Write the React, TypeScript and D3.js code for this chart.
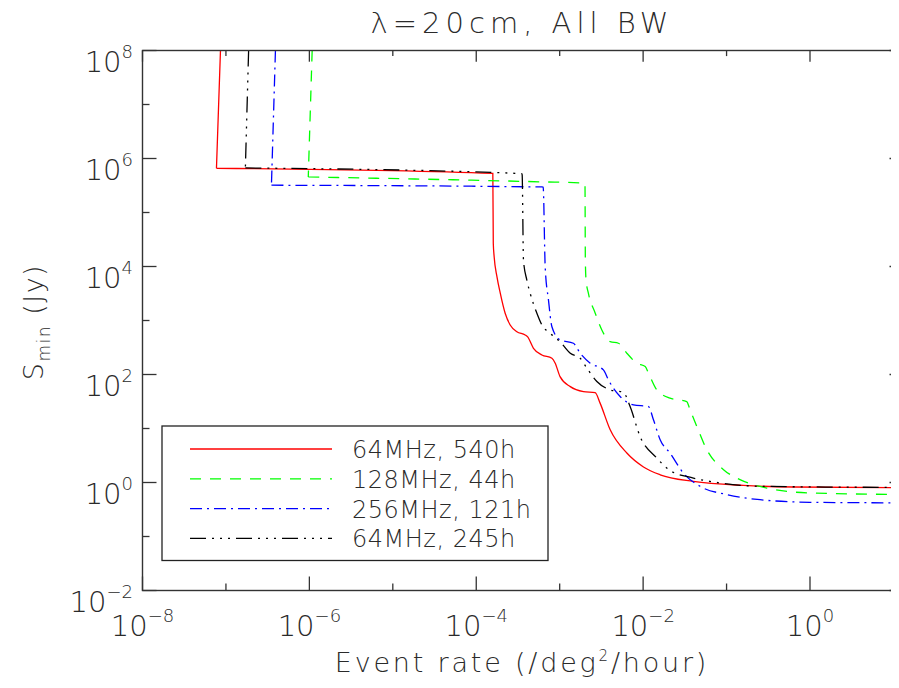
import React from "react";
import * as d3 from "d3";

// ---- data ----
const seriesNames = ["64MHz, 540h", "128MHz, 44h", "256MHz, 121h", "64MHz, 245h"];
const seriesColors = ["#ff0000", "#00ff00", "#0000ff", "#000000"];
const seriesDash = ["none", "11,9", "12,5,2,5", "16,6,2,6,2,6,2,6"];

const redRate = [8.6e-8, 7.7e-8, 1.58e-4, 1.6e-4, 1.64e-4, 1.77e-4, 1.94e-4, 2.22e-4, 2.55e-4, 3.07e-4, 3.86e-4, 4.11e-4, 4.85e-4, 6.12e-4, 8.07e-4, 8.84e-4, 1.01e-3, 1.34e-3, 1.93e-3, 2.66e-3, 3.05e-3, 4.03e-3, 6.38e-3, 1.01e-2, 1.6e-2, 4.0e-2, 0.159, 0.63, 13.5];
const redS = [1e8, 6.6e5, 5.3e5, 2.7e4, 1.5e4, 6.5e3, 3.2e3, 1.36e3, 826, 621, 540, 502, 306, 230, 200, 162, 91.5, 59.7, 48.3, 46.3, 29.5, 9.46, 3.51, 1.94, 1.39, 1.05, 0.883, 0.826, 0.8];

const greenRate = [1.08e-6, 9.7e-7, 5.83e-4, 1.93e-3, 2.01e-3, 2.03e-3, 2.07e-3, 2.21e-3, 2.66e-3, 3.2e-3, 4.03e-3, 5.06e-3, 6.38e-3, 8.4e-3, 1.06e-2, 1.16e-2, 1.46e-2, 2.1e-2, 3.33e-2, 3.65e-2, 4.4e-2, 5.8e-2, 9.2e-2, 0.145, 0.303, 1.0, 13.5];
const greenS = [1e8, 4.55e5, 3.7e5, 3.52e5, 3.5e5, 1.31e4, 5.6e3, 3.18e3, 1.38e3, 667, 405, 379, 248, 162, 140, 106, 51.9, 36.5, 31.5, 22.2, 10.9, 4.04, 1.73, 1.13, 0.79, 0.64, 0.6];

const blueRate = [3.92e-7, 3.51e-7, 6.12e-4, 6.34e-4, 6.7e-4, 7.34e-4, 8.07e-4, 1.01e-3, 1.46e-3, 1.76e-3, 2.32e-3, 3.34e-3, 3.84e-3, 5.3e-3, 7.66e-3, 1.16e-2, 1.33e-2, 1.6e-2, 2.1e-2, 3.03e-2, 4.82e-2, 0.1, 0.252, 1.0, 13.5];
const blueS = [1e8, 3.2e5, 2.97e5, 2.95e5, 9.9e3, 2.39e3, 767, 437, 379, 248, 162, 122, 79.4, 39.1, 27.4, 25.5, 14.5, 6.18, 3.51, 1.5, 0.85, 0.6, 0.48, 0.43, 0.42];

const blackRate = [1.87e-7, 1.71e-7, 3.52e-4, 3.55e-4, 3.68e-4, 4.04e-4, 4.43e-4, 5.33e-4, 6.12e-4, 7.7e-4, 1.01e-3, 1.34e-3, 1.76e-3, 2.12e-3, 2.79e-3, 4.03e-3, 5.8e-3, 6.98e-3, 9.2e-3, 1.46e-2, 2.1e-2, 4.0e-2, 8.4e-2, 0.252, 13.5];
const blackS = [1e8, 6.68e5, 5.26e5, 5.0e5, 1.31e4, 5.6e3, 3.18e3, 1.36e3, 826, 580, 405, 248, 200, 131, 74, 51.9, 46.7, 25.5, 7.1, 2.84, 1.67, 1.21, 0.98, 0.85, 0.81];

const seriesRates = [redRate, greenRate, blueRate, blackRate];
const seriesValues = [redS, greenS, blueS, blackS];

const xMajorExp = [-8, -6, -4, -2, 0];
const xMinorExp = [-7, -5, -3, -1];
const yMajorExp = [8, 6, 4, 2, 0, -2];
const yMinorExp = [7, 5, 3, 1, -1];

const titleText = "λ=20cm, All BW";

// ---- layout ----
const W = 899;
const H = 688;
const left = 142.5;
const right = 903.5;
const top = 50.5;
const bottom = 590.5;
const FONT = "'DejaVu Sans', sans-serif";
const TXT = "#2a2a2a";

export default function App() {
  const x = d3.scaleLog().domain([1e-8, Math.pow(10, 8 * (right - left) / (810 - left) - 8)]).range([left, right]);
  const y = d3.scaleLog().domain([1e-2, 1e8]).range([bottom, top]);
  const straight = d3
    .line<[number, number]>()
    .x((d) => x(d[0]))
    .y((d) => y(d[1]));
  const smooth = d3
    .line<[number, number]>()
    .x((d) => x(d[0]))
    .y((d) => y(d[1]))
    .curve(d3.curveMonotoneX);

  const major = 14;
  const minor = 7;
  const axisColor = "#333";

  const expLabel = (e: number) => (e < 0 ? "−" + Math.abs(e) : String(e));

  return (
    <div style={{ margin: -8, width: W, height: H, background: "#fff", overflow: "hidden" }}>
      <svg width={W} height={H} style={{ display: "block" }}>
        <defs>
          <clipPath id="plotClip">
            <rect x={left} y={top} width={right - left} height={bottom - top} />
          </clipPath>
        </defs>
        <rect x={0} y={0} width={W} height={H} fill="#fff" />

        {/* series */}
        <g clipPath="url(#plotClip)">
          {seriesRates.map((rates, i) => {
            const pts = rates.map((r, j) => [r, seriesValues[i][j]] as [number, number]);
            const d = (straight(pts.slice(0, 2)) || "") + (smooth(pts.slice(1)) || "");
            return (
              <path
                key={i}
                d={d}
                fill="none"
                stroke={seriesColors[i]}
                strokeWidth={1.3}
                strokeDasharray={seriesDash[i]}
              />
            );
          })}
        </g>

        {/* frame */}
        <rect x={left} y={top} width={right - left} height={bottom - top} fill="none" stroke={axisColor} strokeWidth={1.4} />

        {/* x ticks */}
        {xMajorExp.map((e) => {
          const px = x(Math.pow(10, e));
          return (
            <g key={"xM" + e}>
              <line x1={px} x2={px} y1={bottom} y2={bottom - major} stroke={axisColor} strokeWidth={1.3} />
              <line x1={px} x2={px} y1={top} y2={top + major * 0.8} stroke={axisColor} strokeWidth={1.3} />
              <text x={px} y={636} textAnchor="middle" fontFamily={FONT} fontWeight={200} fontSize={29} fill={TXT}>
                10
                <tspan dy={-14} fontSize={18}>{expLabel(e)}</tspan>
              </text>
            </g>
          );
        })}
        {xMinorExp.map((e) => {
          const px = x(Math.pow(10, e));
          return (
            <g key={"xm" + e}>
              <line x1={px} x2={px} y1={bottom} y2={bottom - minor} stroke={axisColor} strokeWidth={1.3} />
              <line x1={px} x2={px} y1={top} y2={top + minor * 0.8} stroke={axisColor} strokeWidth={1.3} />
            </g>
          );
        })}

        {/* y ticks */}
        {yMajorExp.map((e) => {
          const py = y(Math.pow(10, e));
          return (
            <g key={"yM" + e}>
              <line x1={left} x2={left + major} y1={py} y2={py} stroke={axisColor} strokeWidth={1.3} />
              <line x1={right} x2={right - major} y1={py} y2={py} stroke={axisColor} strokeWidth={1.3} />
              <text x={133} y={py + 21} textAnchor="end" fontFamily={FONT} fontWeight={200} fontSize={29} fill={TXT}>
                10
                <tspan dy={-14} fontSize={18}>{expLabel(e)}</tspan>
              </text>
            </g>
          );
        })}
        {yMinorExp.map((e) => {
          const py = y(Math.pow(10, e));
          return (
            <g key={"ym" + e}>
              <line x1={left} x2={left + minor} y1={py} y2={py} stroke={axisColor} strokeWidth={1.3} />
              <line x1={right} x2={right - minor} y1={py} y2={py} stroke={axisColor} strokeWidth={1.3} />
            </g>
          );
        })}

        {/* title */}
        <text x={522} y={33} textAnchor="middle" fontFamily={FONT} fontWeight={200} fontSize={29} letterSpacing={5} fill={TXT}>
          {titleText}
        </text>

        {/* x label */}
        <text x={522} y={672} textAnchor="middle" fontFamily={FONT} fontWeight={200} fontSize={27} letterSpacing={2.8} fill={TXT}>
          Event rate (/deg
          <tspan dy={-11} fontSize={15}>2</tspan>
          <tspan dy={11}>/hour)</tspan>
        </text>

        {/* y label */}
        <text
          transform="translate(43,322) rotate(-90)"
          textAnchor="middle"
          fontFamily={FONT}
          fontWeight={200}
          fontSize={27}
          letterSpacing={1.5}
          fill={TXT}
        >
          S
          <tspan dy={7} fontSize={17}>min</tspan>
          <tspan dy={-7}>{"\u00a0(Jy)"}</tspan>
        </text>

        {/* legend */}
        <rect x={162} y={426} width={386} height={134.5} fill="#fff" stroke="#222" strokeWidth={1.3} />
        {seriesNames.map((name, i) => {
          const ly = 449 + i * 29.8;
          return (
            <g key={"lg" + i}>
              <line x1={190} x2={332} y1={ly} y2={ly} stroke={seriesColors[i]} strokeWidth={1.3} strokeDasharray={seriesDash[i]} />
              <text x={352} y={ly + 9} fontFamily={FONT} fontWeight={200} fontSize={24} letterSpacing={0.5} fill={TXT}>
                {name}
              </text>
            </g>
          );
        })}
      </svg>
    </div>
  );
}
